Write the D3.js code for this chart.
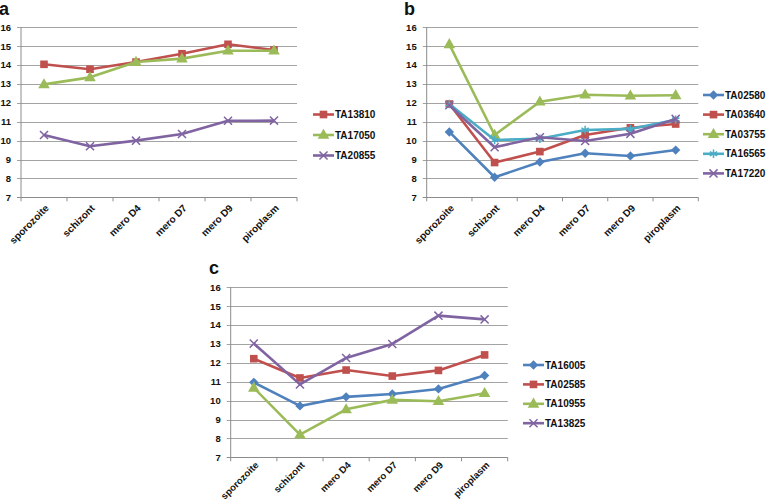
<!DOCTYPE html>
<html>
<head>
<meta charset="utf-8">
<script src="https://cdn.jsdelivr.net/npm/d3@7"></script>
<style>
  body { margin: 0; background: #fff; }
  svg { display: block; }
  text { font-family: "Liberation Sans", Arial, sans-serif; fill: #111; }
</style>
</head>
<body>
<div id="cont"></div>
<script>
// stages on the x axis
var categories = ["sporozoite", "schizont", "mero D4", "mero D7", "mero D9", "piroplasm"];
var yTicks = [7, 8, 9, 10, 11, 12, 13, 14, 15, 16];

// panel a
var namesA = ["TA13810", "TA17050", "TA20855"];
var TA13810 = [14.04, 13.78, 14.16, 14.6, 15.1, 14.8];
var TA17050 = [12.98, 13.35, 14.16, 14.34, 14.76, 14.76];
var TA20855 = [10.3, 9.7, 10.0, 10.35, 11.05, 11.06];

// panel b
var namesB = ["TA02580", "TA03640", "TA03755", "TA16565", "TA17220"];
var TA02580 = [10.46, 8.06, 8.87, 9.33, 9.19, 9.5];
var TA03640 = [11.94, 8.84, 9.42, 10.3, 10.68, 10.88];
var TA03755 = [15.1, 10.3, 12.06, 12.43, 12.38, 12.4];
var TA16565 = [11.94, 10.03, 10.1, 10.56, 10.62, 11.1];
var TA17220 = [11.87, 9.65, 10.18, 9.98, 10.36, 11.15];

// panel c
var namesC = ["TA16005", "TA02585", "TA10955", "TA13825"];
var TA16005 = [10.97, 9.72, 10.2, 10.35, 10.62, 11.33];
var TA02585 = [12.22, 11.2, 11.62, 11.3, 11.6, 12.42];
var TA10955 = [10.68, 8.2, 9.54, 10.04, 9.97, 10.39];
var TA13825 = [13.02, 10.86, 12.26, 13.0, 14.5, 14.3];

var blue = "#4f81bd", red = "#c0504d", green = "#9bbb59", purple = "#8064a2", cyan = "#4bacc6";

var svg = d3.select("#cont").append("svg")
  .attr("width", 778)
  .attr("height", 504);

function drawMarker(g, kind, color, x, y) {
  if (kind == "square") {
    g.append("path").attr("d", d3.symbol(d3.symbolSquare, 58)())
      .attr("transform", "translate(" + x + "," + y + ")").attr("fill", color);
  } else if (kind == "triangle") {
    g.append("path").attr("d", d3.symbol(d3.symbolTriangle, 58)())
      .attr("transform", "translate(" + x + "," + (y + 0.5) + ")").attr("fill", color);
  } else if (kind == "diamond") {
    g.append("path").attr("d", d3.symbol(d3.symbolDiamond2, 56)())
      .attr("transform", "translate(" + x + "," + y + ")").attr("fill", color);
  } else if (kind == "x") {
    g.append("path").attr("d", d3.symbol(d3.symbolX, 44)())
      .attr("transform", "translate(" + x + "," + y + ")")
      .attr("fill", "none").attr("stroke", color).attr("stroke-width", 1.5);
  } else if (kind == "star") {
    g.append("path").attr("d", d3.symbol(d3.symbolAsterisk, 50)())
      .attr("transform", "translate(" + x + "," + y + ")")
      .attr("fill", "none").attr("stroke", color).attr("stroke-width", 1.5);
  }
}

function drawPanel(opt) {
  var g = svg.append("g");

  var xScale = d3.scaleBand().domain(categories).range([opt.x0, opt.x1]).padding(0);
  var yScale = d3.scaleLinear().domain([7, 16]).range([opt.yBottom, opt.yTop]);

  // gridlines
  g.selectAll(".grid")
    .data(yTicks.slice(1))
    .enter().append("line")
    .attr("x1", opt.x0 - 4)
    .attr("x2", opt.x1)
    .attr("y1", function(d) { return Math.round(yScale(d)) + 0.5; })
    .attr("y2", function(d) { return Math.round(yScale(d)) + 0.5; })
    .attr("stroke", "#a3a3a3")
    .attr("stroke-width", 1.2);

  // y axis
  g.append("line")
    .attr("x1", opt.x0).attr("x2", opt.x0)
    .attr("y1", opt.yTop).attr("y2", opt.yBottom)
    .attr("stroke", "#8c8c8c");

  g.selectAll(".ylab")
    .data(yTicks)
    .enter().append("text")
    .attr("x", opt.x0 - 10)
    .attr("y", function(d) { return yScale(d); })
    .attr("dy", "0.35em")
    .attr("text-anchor", "end")
    .style("font-size", "9.5px")
    .style("font-weight", "bold")
    .text(function(d) { return d; });

  // x axis
  g.append("line")
    .attr("x1", opt.x0 - 4).attr("x2", opt.x1)
    .attr("y1", Math.round(opt.yBottom) + 0.5).attr("y2", Math.round(opt.yBottom) + 0.5)
    .attr("stroke", "#8c8c8c");

  var edges = categories.map(function(c) { return xScale(c); }).concat([opt.x1]);
  g.selectAll(".xtick")
    .data(edges)
    .enter().append("line")
    .attr("x1", function(d) { return d; })
    .attr("x2", function(d) { return d; })
    .attr("y1", opt.yBottom)
    .attr("y2", opt.yBottom + 4)
    .attr("stroke", "#8c8c8c");

  g.selectAll(".xlab")
    .data(categories)
    .enter().append("text")
    .attr("text-anchor", "end")
    .attr("transform", function(d) {
      return "translate(" + (xScale(d) + xScale.bandwidth() / 2 + 3) + "," + (opt.yBottom + opt.labelGap) + ") rotate(-45)";
    })
    .attr("dy", "0.35em")
    .style("font-size", opt.catSize)
    .style("font-weight", "bold")
    .text(function(d) { return d; });

  // series
  var line = d3.line()
    .x(function(d, i) { return xScale(categories[i]) + xScale.bandwidth() / 2; })
    .y(function(d) { return yScale(d); });

  opt.series.forEach(function(s) {
    g.append("path")
      .datum(s.values)
      .attr("d", line)
      .attr("fill", "none")
      .attr("stroke", s.color)
      .attr("stroke-width", 2.6)
      .attr("stroke-linejoin", "round");
    s.values.forEach(function(v, i) {
      drawMarker(g, s.marker, s.color, xScale(categories[i]) + xScale.bandwidth() / 2, yScale(v));
    });
  });

  // legend
  opt.series.forEach(function(s, i) {
    var ly = opt.legendY + i * opt.legendStep;
    g.append("line")
      .attr("x1", opt.legendX).attr("x2", opt.legendX + 21)
      .attr("y1", ly).attr("y2", ly)
      .attr("stroke", s.color)
      .attr("stroke-width", 2.6);
    drawMarker(g, s.marker, s.color, opt.legendX + 10.5, ly);
    g.append("text")
      .attr("x", opt.legendX + 22)
      .attr("y", ly)
      .attr("dy", "0.35em")
      .style("font-size", "10px")
      .style("font-weight", "bold")
      .text(s.name);
  });

  // panel letter
  g.append("text")
    .attr("x", opt.labelX)
    .attr("y", opt.labelY)
    .style("font-size", "18px")
    .style("font-weight", "bold")
    .text(opt.label);
}

drawPanel({
  label: "a", labelX: -1, labelY: 15,
  x0: 21, x1: 297, yTop: 27.3, yBottom: 197.3,
  labelGap: 9, catSize: "10px",
  legendX: 313, legendY: 114.5, legendStep: 20.5,
  series: [
    { name: namesA[0], values: TA13810, color: red, marker: "square" },
    { name: namesA[1], values: TA17050, color: green, marker: "triangle" },
    { name: namesA[2], values: TA20855, color: purple, marker: "x" }
  ]
});

drawPanel({
  label: "b", labelX: 404, labelY: 15,
  x0: 426.7, x1: 698.3, yTop: 27.3, yBottom: 197.3,
  labelGap: 9, catSize: "10px",
  legendX: 703, legendY: 95, legendStep: 19.6,
  series: [
    { name: namesB[0], values: TA02580, color: blue, marker: "diamond" },
    { name: namesB[1], values: TA03640, color: red, marker: "square" },
    { name: namesB[2], values: TA03755, color: green, marker: "triangle" },
    { name: namesB[3], values: TA16565, color: cyan, marker: "star" },
    { name: namesB[4], values: TA17220, color: purple, marker: "x" }
  ]
});

drawPanel({
  label: "c", labelX: 209, labelY: 274,
  x0: 230.7, x1: 507.7, yTop: 287.3, yBottom: 457.3,
  labelGap: 6, catSize: "9.6px",
  legendX: 523, legendY: 365, legendStep: 19.4,
  series: [
    { name: namesC[0], values: TA16005, color: blue, marker: "diamond" },
    { name: namesC[1], values: TA02585, color: red, marker: "square" },
    { name: namesC[2], values: TA10955, color: green, marker: "triangle" },
    { name: namesC[3], values: TA13825, color: purple, marker: "x" }
  ]
});
</script>
</body>
</html>
